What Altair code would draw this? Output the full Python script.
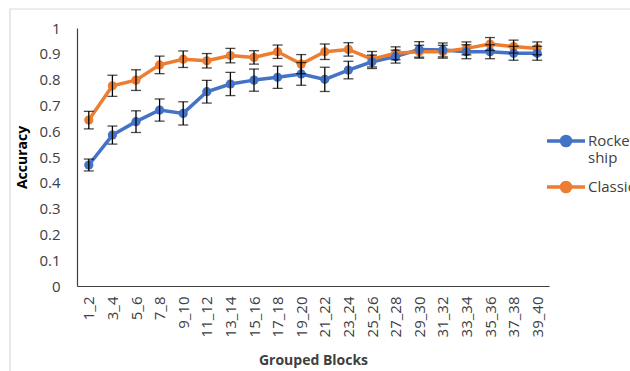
import altair as alt
import pandas as pd

groups = ["1_2", "3_4", "5_6", "7_8", "9_10", "11_12", "13_14", "15_16", "17_18", "19_20",
          "21_22", "23_24", "25_26", "27_28", "29_30", "31_32", "33_34", "35_36", "37_38", "39_40"]
rocket = [0.469, 0.585, 0.637, 0.682, 0.669, 0.753, 0.783, 0.798, 0.809, 0.822,
          0.801, 0.837, 0.869, 0.889, 0.917, 0.915, 0.908, 0.908, 0.902, 0.902]
rocket_err = [0.023, 0.035, 0.042, 0.043, 0.045, 0.044, 0.045, 0.043, 0.043, 0.044,
              0.047, 0.034, 0.026, 0.025, 0.03, 0.027, 0.027, 0.027, 0.027, 0.027]
classic = [0.643, 0.776, 0.798, 0.857, 0.879, 0.873, 0.893, 0.886, 0.908, 0.86,
           0.908, 0.917, 0.879, 0.902, 0.908, 0.908, 0.921, 0.938, 0.928, 0.921]
classic_err = [0.034, 0.041, 0.04, 0.034, 0.032, 0.028, 0.028, 0.026, 0.026, 0.037,
               0.03, 0.026, 0.03, 0.025, 0.025, 0.025, 0.025, 0.025, 0.025, 0.025]
series_names = ["Rocket ship", "Classic"]
y_ticks = [0, 0.1, 0.2, 0.3, 0.4, 0.5, 0.6, 0.7, 0.8, 0.9, 1]

rows = []
for name, vals, errs in [(series_names[0], rocket, rocket_err), (series_names[1], classic, classic_err)]:
    for g, v, e in zip(groups, vals, errs):
        rows.append({"group": g, "series": name, "acc": v, "err": e})
df = pd.DataFrame(rows)

FONT = "Open Sans"
W, H = 472, 258

xscale = alt.Scale(type="point", padding=0.5)
xaxis = alt.Axis(title="Grouped Blocks", labelAngle=-90, labelAlign="right",
                 labelBaseline="middle", labelFontSize=15, labelColor="#404040",
                 labelPadding=10, ticks=False, domainColor="#404040", domainWidth=1.2,
                 labelOverlap=False, labelBound=False,
                 titleFontSize=14, titleFontWeight="bold", titleColor="#404040",
                 titleY=67, titleBaseline="top", labelFont=FONT, titleFont=FONT)
yscale = alt.Scale(domain=[0, 1], nice=False)
yaxis = alt.Axis(title="Accuracy", values=y_ticks,
                 labelExpr="datum.value == 0 || datum.value == 1 ? format(datum.value, 'd') : format(datum.value, '.1f')",
                 grid=False, ticks=False, labelPadding=17, labelFontSize=15,
                 labelOverlap=False, labelBound=False,
                 labelColor="#404040", domainColor="#404040", domainWidth=1.2,
                 titleFontSize=14, titleFontWeight="bold", titleColor="#000000",
                 titleX=-48, titleY=129, labelFont=FONT, titleFont=FONT)

xenc = alt.X("group:N", sort=groups, scale=xscale, axis=xaxis)

legend = alt.Legend(title=None, orient="none", legendX=468, legendY=92,
                    symbolType="M-1,0 L1,0 M0.24,0 A0.24,0.24 0 1 1 -0.24,0 A0.24,0.24 0 1 1 0.24,0 Z",
                    symbolSize=1444, symbolStrokeWidth=3.5, labelFontSize=15, labelFont=FONT,
                    labelColor="#404040", labelOffset=1, rowPadding=0, labelBaseline="middle",
                    labelExpr="datum.label == 'Rocket ship' ? ['Rocket', 'ship'] : datum.label")

color = alt.Color("series:N", scale=alt.Scale(domain=series_names, range=["#4472C4", "#ED7D31"]),
                  legend=legend, sort=series_names)

base = alt.Chart(df)

border = alt.Chart(pd.DataFrame({"a": [0]})).mark_rect(
    fill=None, stroke="#d9d9d9", strokeWidth=1.2, clip=False
).encode(x=alt.value(-67), y=alt.value(-19), x2=alt.value(620), y2=alt.value(400))

lines = base.mark_line(strokeWidth=3.5, point=alt.OverlayMarkDef(filled=True, size=85, opacity=1)).encode(
    x=xenc, y=alt.Y("acc:Q", scale=yscale, axis=yaxis), color=color, order=alt.Order("series:N"))

bars = base.transform_calculate(lo="datum.acc - datum.err", hi="datum.acc + datum.err")
err_rule = bars.mark_rule(color="black", strokeWidth=1.3).encode(
    x=xenc, y=alt.Y("lo:Q", scale=yscale, axis=yaxis), y2="hi:Q")
cap_lo = bars.mark_tick(color="black", thickness=1.3, size=10, orient="horizontal").encode(
    x=xenc, y=alt.Y("lo:Q", scale=yscale, axis=yaxis))
cap_hi = bars.mark_tick(color="black", thickness=1.3, size=10, orient="horizontal").encode(
    x=xenc, y=alt.Y("hi:Q", scale=yscale, axis=yaxis))

chart = alt.layer(border, lines, err_rule, cap_lo, cap_hi).properties(
    width=W, height=H,
    padding={"left": 77, "top": 28, "right": 81, "bottom": 85},
    autosize=alt.AutoSizeParams(type="none"),
    background="white",
).configure_view(stroke=None)

chart.save("out.html", embed_options={"renderer": "svg", "actions": False})
